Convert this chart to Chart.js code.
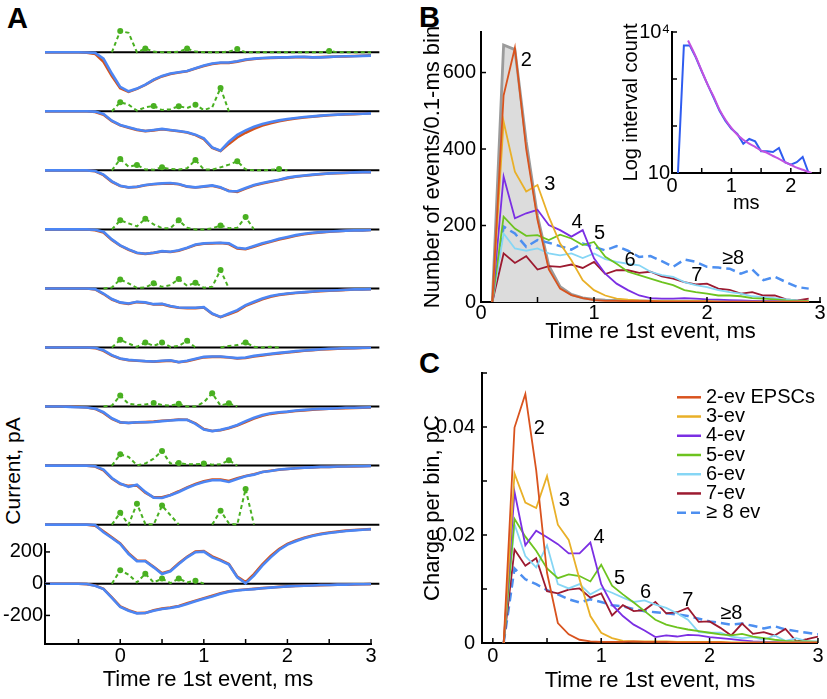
<!DOCTYPE html>
<html>
<head>
<meta charset="utf-8">
<script src="https://cdn.jsdelivr.net/npm/chart.js@4.4.0/dist/chart.umd.min.js"></script>
<style>
  html, body { margin: 0; padding: 0; background: #fff; }
  body { width: 827px; height: 699px; position: relative; overflow: hidden; font-family: 'Liberation Sans', Arial, sans-serif; }
  canvas { position: absolute; }
  .lbl { position: absolute; font-weight: bold; font-size: 29px; line-height: 29px; }
  #yTitleA { position: absolute; left: 12px; top: 471px; font-size: 21px; line-height: 21px; white-space: nowrap;
             transform: translate(-50%, -50%) rotate(-90deg); }
</style>
</head>
<body>
<div class="lbl" style="left:7px;top:4px">A</div>
<div class="lbl" style="left:419px;top:3px">B</div>
<div class="lbl" style="left:419px;top:349px">C</div>
<div id="yTitleA">Current, pA</div>
<canvas id="chartA" width="400" height="699" style="left:0;top:0"></canvas>
<canvas id="chartB" width="407" height="350" style="left:420px;top:0"></canvas>
<canvas id="chartInset" width="227" height="220" style="left:600px;top:0"></canvas>
<canvas id="chartC" width="407" height="359" style="left:420px;top:340px"></canvas>
<script>
const family = "'Liberation Sans', Arial, sans-serif";
Chart.defaults.font.family = family;
Chart.defaults.font.size = 20;
Chart.defaults.color = '#000';

// ---------- Panel A: ten example EPSCs (pA), 0.1 ms samples ----------
const tA = [-0.9,-0.8,-0.7,-0.6,-0.5,-0.4,-0.3,-0.2,-0.1,0,0.1,0.2,0.3,0.4,0.5,0.6,0.7,0.8,0.9,1,
            1.1,1.2,1.3,1.4,1.5,1.6,1.7,1.8,1.9,2,2.1,2.2,2.3,2.4,2.5,2.6,2.7,2.8,2.9,3,3.1];
const traceGap = 372; // pA between stacked baselines

// blue = model fit, orange = recorded EPSC
const blue1 = [0,0,0,0,0,-2,-4,-40,-134,-218,-246,-229,-204,-172,-149,-134,-126,-118,-101,-84,-71,-65,-65,-57,-46,-40,-36,-34,-32,-32,-29,-29,-32,-32,-29,-27,-25,-25,-23,-21,-17];
const orange1 = [0,0,0,0,0,-3,-10,-61,-150,-226,-250,-231,-206,-175,-152,-137,-128,-120,-103,-87,-74,-68,-67,-59,-48,-42,-38,-36,-34,-33,-31,-30,-32,-31,-29,-27,-26,-24,-22,-19,-15];
const blue2 = [0,0,0,0,0,0,-2,-17,-59,-86,-101,-115,-124,-118,-111,-118,-124,-132,-147,-170,-227,-248,-191,-149,-120,-97,-80,-67,-57,-48,-42,-36,-32,-27,-23,-21,-19,-17,-15,-13,-8];
const orange2 = [0,0,0,0,0,0,-4,-22,-62,-88,-103,-117,-125,-120,-113,-119,-126,-134,-150,-175,-230,-250,-205,-165,-135,-110,-90,-75,-63,-53,-45,-39,-34,-29,-25,-22,-20,-18,-15,-12,-8];
const blue3 = [0,0,0,0,0,0,-4,-27,-69,-97,-107,-103,-92,-86,-82,-80,-86,-101,-107,-101,-95,-107,-132,-132,-111,-92,-80,-69,-59,-46,-38,-32,-27,-23,-19,-17,-15,-13,-11,-11,-8];
const orange3 = [0,0,0,0,0,0,-6,-30,-72,-99,-108,-104,-94,-88,-84,-82,-88,-103,-108,-103,-97,-110,-128,-136,-115,-96,-83,-72,-61,-49,-40,-34,-29,-24,-20,-18,-16,-14,-12,-11,-9];
const blue4 = [0,0,0,0,0,0,-2,-15,-63,-101,-126,-147,-153,-147,-137,-141,-132,-116,-95,-88,-86,-84,-88,-116,-122,-105,-88,-74,-59,-48,-36,-27,-21,-17,-13,-11,-8,-6,-6,-4,-2];
const orange4 = [0,0,0,0,0,0,-5,-20,-66,-103,-128,-149,-154,-148,-139,-142,-134,-118,-98,-90,-88,-86,-92,-120,-125,-109,-92,-78,-63,-52,-40,-31,-24,-19,-15,-12,-9,-7,-6,-4,-2];
const blue5 = [0,0,0,0,0,0,-4,-32,-67,-88,-95,-84,-88,-99,-97,-111,-120,-122,-122,-118,-158,-179,-158,-137,-105,-84,-63,-48,-38,-32,-27,-23,-19,-15,-13,-11,-8,-6,-6,-4,-4];
const orange5 = [0,0,0,0,0,0,-6,-35,-70,-90,-97,-86,-90,-101,-99,-113,-122,-124,-124,-120,-160,-181,-162,-142,-110,-89,-68,-52,-41,-34,-29,-25,-21,-17,-14,-12,-9,-7,-6,-5,-4];
const blue6 = [0,0,0,0,0,0,-2,-17,-48,-69,-78,-82,-86,-88,-84,-80,-92,-84,-71,-59,-57,-57,-61,-67,-63,-53,-46,-40,-34,-29,-23,-19,-15,-11,-8,-6,-4,-4,-2,-2,0];
const orange6 = [0,0,0,0,0,0,-4,-21,-51,-71,-80,-84,-87,-89,-86,-83,-93,-87,-74,-62,-59,-59,-63,-69,-66,-57,-50,-43,-37,-32,-26,-21,-17,-13,-10,-8,-6,-5,-3,-2,-1];
const blue7 = [0,0,0,-2,-4,-6,-13,-36,-74,-99,-103,-99,-99,-97,-92,-88,-84,-84,-109,-145,-155,-147,-134,-116,-92,-71,-53,-42,-36,-32,-25,-21,-17,-15,-13,-11,-8,-8,-6,-4,-2];
const orange7 = [0,0,0,-1,-3,-6,-15,-40,-78,-100,-104,-100,-98,-95,-90,-86,-82,-83,-106,-142,-154,-149,-137,-120,-97,-76,-58,-46,-39,-34,-28,-24,-20,-17,-14,-12,-10,-9,-7,-5,-3];
const blue8 = [0,0,0,0,0,0,-4,-25,-78,-113,-134,-120,-166,-202,-204,-187,-166,-141,-120,-103,-92,-92,-103,-84,-67,-57,-40,-34,-25,-21,-17,-13,-11,-8,-8,-6,-6,-4,-4,-2,-2];
const orange8 = [0,0,0,0,0,0,-6,-30,-82,-116,-128,-125,-170,-200,-200,-185,-162,-137,-116,-99,-88,-88,-97,-80,-65,-54,-40,-33,-26,-21,-17,-14,-11,-9,-8,-7,-6,-5,-4,-3,-2];
const blue9 = [0,0,0,0,0,0,-2,-48,-84,-122,-185,-231,-231,-269,-311,-294,-248,-206,-174,-170,-206,-227,-252,-332,-370,-321,-258,-206,-160,-126,-105,-86,-71,-61,-53,-46,-40,-36,-32,-29,-27];
const orange9 = [0,0,0,0,0,0,-6,-42,-80,-118,-180,-226,-228,-265,-306,-290,-244,-202,-170,-166,-200,-222,-248,-328,-362,-312,-250,-198,-154,-122,-100,-83,-69,-58,-50,-44,-38,-34,-31,-28,-26];
const blue10 = [0,0,0,0,0,-2,-13,-34,-90,-147,-170,-187,-185,-170,-160,-153,-143,-128,-111,-95,-80,-63,-50,-42,-38,-34,-29,-25,-21,-17,-15,-13,-11,-8,-8,-6,-6,-4,-4,-2,-2];
const orange10 = [0,0,0,0,0,-3,-12,-32,-86,-143,-167,-185,-184,-168,-157,-150,-140,-124,-107,-91,-76,-60,-48,-41,-37,-33,-28,-24,-20,-17,-15,-13,-11,-9,-8,-7,-6,-5,-4,-3,-2];

// green = detected release events (drawn above each baseline)
const events1 = [null,null,null,null,null,null,null,null,0,134,122,0,23,4,0,0,4,23,4,0,0,0,4,21,0,0,0,0,0,0,0,0,0,0,8,0,0,0,0,0,0];
const events2 = [null,null,null,null,null,null,null,null,0,57,42,4,25,34,8,13,32,21,42,8,25,147,0,null,null,null,null,null,null,null,null,null,null,null,null,null,null,null,null,null,null];
const events3 = [null,null,null,null,null,null,null,null,0,71,23,34,6,4,19,8,6,13,65,6,4,19,36,57,6,0,0,4,8,0,null,null,null,null,null,null,null,null,null,null,null];
const events4 = [null,null,null,null,null,null,null,null,0,57,38,19,67,32,8,8,57,10,0,0,6,25,8,10,78,0,null,null,null,null,null,null,null,null,null,null,null,null,null,null,null];
const events5 = [null,null,null,null,null,null,null,0,6,57,32,4,6,32,10,21,59,17,36,4,10,116,0,null,null,null,null,null,null,null,null,null,null,null,null,null,null,null,null,null,null];
const events6 = [null,null,null,null,null,null,null,null,0,48,25,4,32,10,32,4,10,42,0,null,null,0,10,15,32,4,0,4,0,null,null,null,null,null,null,null,null,null,null,null,null];
const events7 = [null,null,null,null,null,null,null,0,6,69,17,10,13,23,10,6,17,0,0,27,84,6,21,0,null,null,null,null,null,null,null,null,null,null,null,null,null,null,null,null,null];
const events8 = [null,null,null,null,null,null,null,null,0,71,55,2,13,44,92,13,17,8,8,13,6,8,34,0,null,null,null,null,null,null,null,null,null,null,null,null,null,null,null,null,null];
const events9 = [null,null,null,null,null,null,null,null,0,75,0,132,4,0,120,60,0,null,null,null,0,88,8,0,225,0,null,null,null,null,null,null,null,null,null,null,null,null,null,null,null];
const events10 = [null,null,null,null,null,null,null,null,0,84,57,8,63,8,32,4,32,8,19,0,null,null,null,null,null,null,null,null,null,null,null,null,null,null,null,null,null,null,null,null,null];

const blueA = [blue1,blue2,blue3,blue4,blue5,blue6,blue7,blue8,blue9,blue10];
const orangeA = [orange1,orange2,orange3,orange4,orange5,orange6,orange7,orange8,orange9,orange10];
const eventsA = [events1,events2,events3,events4,events5,events6,events7,events8,events9,events10];
const xTicksA = [-0.5,0,0.5,1,1.5,2,2.5,3];
const yTicksA = [-200,0,200];

// ---------- Panel B: event time histograms per EPSC class ----------
const tB = [0.1,0.2,0.3,0.4,0.5,0.6,0.7,0.8,0.9,1,1.1,1.2,1.3,1.4,1.5,1.6,1.7,1.8,1.9,2,2.1,2.2,2.3,2.4,2.5,2.6,2.7,2.8,2.9];
const grayB = [0,672,660,420,225,95,40,20,11,7,5,4,3,3,2,2,2,2,2,1,1,1,1,1,1,1,1,1,1];
const b2 = [0,540,665,400,215,85,35,18,10,5,3,3,2,2,2,1,1,1,1,1,0,0,0,0,0,0,0,0,0];
const b3 = [0,472,341,289,306,223,153,109,57,31,17,9,6,4,3,2,2,2,2,2,1,1,1,1,1,1,1,1,1];
const b4 = [0,328,219,232,241,201,188,171,188,114,74,48,31,17,10,9,9,10,9,7,6,5,4,3,2,2,1,1,0];
const b5 = [0,223,192,173,175,162,176,166,149,157,118,100,79,70,61,52,44,31,26,22,17,17,15,10,9,7,4,3,2];
const b6 = [0,179,140,134,140,127,122,127,115,127,112,105,100,96,79,70,66,52,44,39,31,26,22,15,13,10,7,4,2];
const b7 = [0,127,102,120,85,94,92,98,89,105,73,83,83,76,79,67,61,52,46,48,35,32,22,26,17,17,7,4,9];
const b8 = [0,197,179,144,162,155,146,137,153,144,135,146,134,118,120,107,92,111,105,92,90,87,74,85,57,66,52,39,35];
const bNumText = ['2','3','4','5','6','7','\u22658'];
const bNumX = [0.40,0.61,0.85,1.05,1.32,1.91,2.23];
const bNumY = [631,306,207,179,108,70,114];
const xTicksB = [0,0.5,1,1.5,2,2.5,3];
const xLabelsB = ['0','','1','','2','','3'];
const yTicksB = [0,200,400,600];

// inset: interval distribution (log) with fit
const tI = [0.1,0.2,0.3,0.4,0.5,0.6,0.7,0.8,0.9,1,1.1,1.2,1.3,1.4,1.5,1.6,1.7,1.8,1.9,2,2.1,2.2,2.3];
const intervals = [10,5150,5150,2900,1450,760,400,210,128,87,68,42,53,47,29,29,28,34,17,15,17,22,10];
const tFit = [0.27,0.4,0.5,0.6,0.7,0.8,0.9,1,1.1,1.2,1.3,1.4,1.5,1.6,1.7,1.8,1.9,2,2.1,2.2,2.3,2.35];
const intervalFit = [6600,3000,1500,760,427,223,136,91,65,51,42,36,30,27,23,20,17,15,13,11.7,10.5,10];
const xTicksI = [0,0.5,1,1.5,2,2.5];
const xLabelsI = ['0','','1','','2',''];
const yTicksI = [10,100,1000,10000];
const yLabelsI = ['10','','','10\u2074'];

// ---------- Panel C: charge per bin ----------
const tC = [0.1,0.2,0.3,0.4,0.5,0.6,0.7,0.8,0.9,1,1.1,1.2,1.3,1.4,1.5,1.6,1.7,1.8,1.9,2,2.1,2.2,2.3,2.4,2.5,2.6,2.7,2.8,2.9,3];
const c2 = [0,0.0399,0.0461,0.032,0.013,0.0037,0.0016,0.0006,0.0003,0.0002,0.0002,0.0002,0.0003,0.0002,0.0002,0.0002,0.0001,0.0001,0.0001,0.0001,0.0001,0,0,0,0,0,0,0,0,0];
const c3 = [0,0.0314,0.026,0.025,0.0309,0.0219,0.0191,0.0118,0.005,0.0019,0.0009,0.0004,0.0003,0.0003,0.0003,0.0003,0.0002,0.0002,0.0002,0.0002,0.0002,0.0001,0.0001,0.0001,0.0001,0.0001,0.0001,0.0001,0.0001,0.0001];
const c4 = [0,0.028,0.0181,0.0208,0.0196,0.0183,0.0166,0.0166,0.0186,0.0109,0.0071,0.005,0.0034,0.0023,0.0011,0.0014,0.0012,0.0015,0.0014,0.0011,0.0009,0.0007,0.0005,0.0003,0.0002,0.0002,0.0001,0.0001,0.0001,0.0001];
const c5 = [0,0.023,0.0197,0.0171,0.0138,0.012,0.0127,0.0124,0.0114,0.0145,0.0106,0.009,0.0075,0.0059,0.0043,0.0034,0.0029,0.0025,0.0022,0.0019,0.0016,0.0014,0.0017,0.0012,0.0009,0.0006,0.0004,0.0003,0.0003,0.0002];
const c6 = [0,0.022,0.0161,0.014,0.0181,0.0109,0.0101,0.0109,0.009,0.0101,0.0093,0.0084,0.0076,0.0079,0.0071,0.0065,0.0055,0.0043,0.002,0.0019,0.0019,0.0012,0.0009,0.0011,0.0006,0.0014,0.0004,0.0009,0.0003,0.0003];
const c7 = [0,0.0173,0.0143,0.0157,0.0096,0.0092,0.0099,0.0101,0.0084,0.0092,0.0051,0.007,0.0059,0.0061,0.0076,0.0055,0.0057,0.0065,0.0039,0.004,0.0028,0.0014,0.0036,0.0017,0.002,0.0014,0.0026,0.0003,0.0007,0.0012];
const c8 = [0,0.0138,0.0118,0.0109,0.0098,0.009,0.0081,0.0075,0.0081,0.0076,0.007,0.0068,0.0063,0.0059,0.0057,0.0055,0.0053,0.005,0.0045,0.004,0.0037,0.0034,0.0036,0.0032,0.0027,0.0031,0.0025,0.0022,0.0019,0.0016];
const legendC = ['2-ev EPSCs','3-ev','4-ev','5-ev','6-ev','7-ev','\u2265 8 ev'];
const cNumText = ['2','3','4','5','6','7','\u22658'];
const cNumX = [0.43,0.66,0.98,1.17,1.41,1.80,2.20];
const cNumY = [0.0398,0.0264,0.0196,0.0119,0.0093,0.0079,0.0055];
const xTicksC = [0,0.5,1,1.5,2,2.5,3];
const xLabelsC = ['0','','1','','2','','3'];
const yTicksC = [0,0.01,0.02,0.03,0.04,0.05];
const yLabelsC = ['0','','0.02','','0.04',''];

const classColors = ['#d9531e','#e9b028','#7b2fe3','#6dc31f','#86d6f5','#9c1a30','#4d8ff0'];
const eventGreen = '#49b021';

// ---------- helpers ----------
const inwardTicks = {
  id: 'inwardTicks',
  afterDraw(chart) {
    const ctx = chart.ctx, area = chart.chartArea;
    ctx.save();
    ctx.strokeStyle = '#000';
    ctx.lineWidth = 1.5;
    Object.values(chart.scales).forEach(s => {
      s.ticks.forEach(tk => {
        const p = s.getPixelForValue(tk.value);
        ctx.beginPath();
        if (s.isHorizontal()) { ctx.moveTo(p, area.bottom); ctx.lineTo(p, area.bottom - 5); }
        else { ctx.moveTo(area.left, p); ctx.lineTo(area.left + 5, p); }
        ctx.stroke();
      });
    });
    ctx.restore();
  }
};

function isPeak(arr, i) {
  const v = arr[i];
  if (v === null || v < 8) return false;
  const prev = arr[i - 1] ?? 0, next = arr[i + 1] ?? 0;
  return v > prev && v >= next;
}

// dots on event peaks (drawn here because they sit outside the chart area)
const eventDots = {
  id: 'eventDots',
  afterDatasetsDraw(chart) {
    const ctx = chart.ctx;
    ctx.save();
    ctx.fillStyle = eventGreen;
    chart.data.datasets.forEach((ds, di) => {
      if (!ds.eventHeights) return;
      chart.getDatasetMeta(di).data.forEach((pt, j) => {
        if (isPeak(ds.eventHeights, j)) {
          ctx.beginPath();
          ctx.arc(pt.x, pt.y, 3, 0, Math.PI * 2);
          ctx.fill();
        }
      });
    });
    ctx.restore();
  }
};

function numbersPlugin(text, xs, ys) {
  return {
    id: 'classNumbers',
    afterDatasetsDraw(chart) {
      const ctx = chart.ctx;
      ctx.save();
      ctx.font = '20px ' + family;
      ctx.fillStyle = '#000';
      ctx.textAlign = 'center';
      ctx.textBaseline = 'middle';
      text.forEach((t, i) => {
        ctx.fillText(t, chart.scales.x.getPixelForValue(xs[i]), chart.scales.y.getPixelForValue(ys[i]));
      });
      ctx.restore();
    }
  };
}

function legendPlugin(left, top, rowH) {
  return {
    id: 'legendC',
    afterDraw(chart) {
      const ctx = chart.ctx;
      ctx.save();
      ctx.font = '20px ' + family;
      ctx.textAlign = 'left';
      ctx.textBaseline = 'middle';
      chart.data.datasets.forEach((ds, i) => {
        const y = top + i * rowH;
        ctx.strokeStyle = ds.borderColor;
        ctx.lineWidth = 2.5;
        ctx.setLineDash(ds.borderDash || []);
        ctx.beginPath();
        ctx.moveTo(left, y);
        ctx.lineTo(left + 24, y);
        ctx.stroke();
        ctx.fillStyle = '#000';
        ctx.fillText(ds.label, left + 29, y);
      });
      ctx.restore();
    }
  };
}

function axis(opts) {
  return {
    type: opts.type || 'linear',
    min: opts.min, max: opts.max,
    grid: { display: false, drawTicks: false },
    border: { display: true, color: '#000', width: 2 },
    ticks: {
      padding: opts.pad, autoSkip: false, maxRotation: 0,
      font: { size: opts.size || 20, lineHeight: 1 },
      callback: (v, i) => opts.labels ? opts.labels[i] : String(v)
    },
    afterBuildTicks: s => { s.ticks = opts.ticks.map(v => ({ value: v })); },
    afterFit: s => { if (opts.width) s.width = opts.width; if (opts.height) s.height = opts.height; },
    title: opts.title ? { display: true, text: opts.title, font: { size: opts.titleSize || 22 }, padding: opts.titlePad } : { display: false }
  };
}

// ---------- Panel A chart ----------
const dsA = [];
for (let k = 0; k < 10; k++) {
  const base = (9 - k) * traceGap;
  const ev = eventsA[k];
  dsA.push({ data: [{ x: tA[0], y: base }, { x: tA[tA.length - 1], y: base }], borderColor: '#000', borderWidth: 2, order: 4 });
  dsA.push({ data: tA.map((t, i) => ({ x: t, y: base + orangeA[k][i] })), borderColor: '#d4531c', borderWidth: 2.6, order: 3 });
  dsA.push({ data: tA.map((t, i) => ({ x: t, y: base + blueA[k][i] })), borderColor: '#4c86f4', borderWidth: 2.6, order: 2 });
  dsA.push({
    data: tA.map((t, i) => ({ x: t, y: ev[i] === null ? null : base + ev[i] })),
    borderColor: eventGreen, borderWidth: 2, borderDash: [4, 3], order: 1,
    eventHeights: ev
  });
}
dsA.forEach(d => { d.clip = false; d.fill = false; d.pointRadius = 0; });

new Chart(document.getElementById('chartA'), {
  type: 'line',
  data: { datasets: dsA },
  plugins: [inwardTicks, eventDots],
  options: {
    responsive: false, animation: false, events: [],
    layout: { padding: { left: 0, right: 29, top: 544, bottom: 0 } },
    plugins: { legend: { display: false }, tooltip: { enabled: false } },
    scales: {
      x: axis({ min: -0.9, max: 3, ticks: xTicksA, labels: xTicksA.map(v => Number.isInteger(v) ? String(v) : ''),
                pad: 2, height: 55, title: 'Time re 1st event, ms', titlePad: { top: 0, bottom: 6 } }),
      y: axis({ min: -380, max: 250, ticks: yTicksA, pad: 2, width: 45 })
    }
  }
});

// ---------- Panel B chart ----------
const bSeries = [b2, b3, b4, b5, b6, b7, b8];
const dsB = bSeries.map((s, i) => ({
  data: tB.map((t, j) => ({ x: t, y: s[j] })),
  borderColor: classColors[i],
  borderWidth: i === 6 ? 2.5 : 1.8,
  borderDash: i === 6 ? [9, 5] : [],
  pointRadius: 0, fill: false
}));
dsB.push({
  data: tB.map((t, j) => ({ x: t, y: grayB[j] })),
  borderColor: '#9b9b9b', backgroundColor: '#dcdcdc', borderWidth: 2.8,
  pointRadius: 0, fill: 'origin', order: 10
});

new Chart(document.getElementById('chartB'), {
  type: 'line',
  data: { datasets: dsB },
  plugins: [inwardTicks, numbersPlugin(bNumText, bNumX, bNumY)],
  options: {
    responsive: false, animation: false, events: [],
    layout: { padding: { left: 0, right: 7, top: 32, bottom: 0 } },
    plugins: { legend: { display: false }, tooltip: { enabled: false } },
    scales: {
      x: axis({ min: 0, max: 3, ticks: xTicksB, labels: xLabelsB, pad: 1, height: 48,
                title: 'Time re 1st event, ms', titlePad: { top: 0, bottom: 5 } }),
      y: axis({ min: 0, max: 706, ticks: yTicksB, pad: 5, width: 61,
                title: 'Number of events/0.1-ms bin', titlePad: { top: 0, bottom: 0 } })
    }
  }
});

// ---------- Inset ----------
new Chart(document.getElementById('chartInset'), {
  type: 'line',
  data: {
    datasets: [
      { data: tFit.map((t, j) => ({ x: t, y: intervalFit[j] })), borderColor: '#c252e0', borderWidth: 2,
        pointRadius: 0, cubicInterpolationMode: 'monotone' },
      { data: tI.map((t, j) => ({ x: t, y: intervals[j] })), borderColor: '#2f5cf0', borderWidth: 2, pointRadius: 0 }
    ]
  },
  plugins: [inwardTicks],
  options: {
    responsive: false, animation: false, events: [],
    layout: { padding: { left: 0, right: 6.5, top: 32, bottom: 0 } },
    plugins: { legend: { display: false }, tooltip: { enabled: false } },
    scales: {
      x: axis({ min: 0, max: 2.5, ticks: xTicksI, labels: xLabelsI, pad: 3, height: 47,
                title: 'ms', titleSize: 20, titlePad: { top: 0, bottom: 5 } }),
      y: axis({ type: 'logarithmic', min: 10, max: 10000, ticks: yTicksI, labels: yLabelsI, pad: 2, width: 72,
                title: 'Log interval count', titleSize: 20, titlePad: { top: 19, bottom: 0 } })
    }
  }
});

// ---------- Panel C chart ----------
const cSeries = [c2, c3, c4, c5, c6, c7, c8];
const dsC = cSeries.map((s, i) => ({
  label: legendC[i],
  data: tC.map((t, j) => ({ x: t, y: s[j] })),
  borderColor: classColors[i],
  borderWidth: i === 6 ? 2.5 : 1.8,
  borderDash: i === 6 ? [9, 5] : [],
  pointRadius: 0, fill: false
}));

new Chart(document.getElementById('chartC'), {
  type: 'line',
  data: { datasets: dsC },
  plugins: [inwardTicks, numbersPlugin(cNumText, cNumX, cNumY), legendPlugin(257, 57.3, 19.23)],
  options: {
    responsive: false, animation: false, events: [],
    layout: { padding: { left: 0, right: 7, top: 33, bottom: 0 } },
    plugins: { legend: { display: false }, tooltip: { enabled: false } },
    scales: {
      x: axis({ min: -0.1, max: 3, ticks: xTicksC, labels: xLabelsC, pad: 3.5, height: 56,
                title: 'Time re 1st event, ms', titlePad: { top: 0, bottom: 5 } }),
      y: axis({ min: 0, max: 0.05, ticks: yTicksC, labels: yLabelsC, pad: 7, width: 62,
                title: 'Charge per bin, pC', titlePad: { top: 0, bottom: 0 } })
    }
  }
});
</script>
</body>
</html>
